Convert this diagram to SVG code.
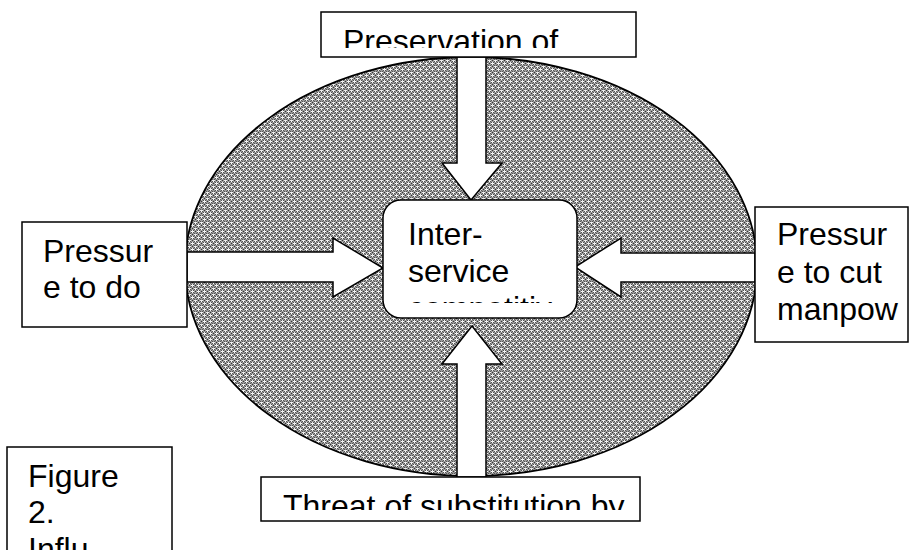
<svg xmlns="http://www.w3.org/2000/svg" width="909" height="550" viewBox="0 0 909 550">
<defs>
<style>
.box{fill:#fff;stroke:#000;stroke-width:1.5}
.t{font-family:"Liberation Sans",Arial,sans-serif;font-size:32px;fill:#000}
.arr{fill:#fff;stroke:#000;stroke-width:1.5;stroke-linejoin:miter}
</style>
<pattern id="chk" width="6" height="6" patternUnits="userSpaceOnUse">
<rect width="6" height="6" fill="#9a9a9a"/>
<rect x="0" y="0" width="1" height="1" fill="#333"/>
<rect x="3" y="3" width="1" height="1" fill="#333"/>
<rect x="2" y="1" width="1" height="1" fill="#555"/>
<rect x="4" y="1" width="1" height="1" fill="#555"/>
<rect x="1" y="2" width="1" height="1" fill="#555"/>
<rect x="5" y="2" width="1" height="1" fill="#555"/>
<rect x="1" y="4" width="1" height="1" fill="#555"/>
<rect x="5" y="4" width="1" height="1" fill="#555"/>
<rect x="2" y="5" width="1" height="1" fill="#555"/>
<rect x="4" y="5" width="1" height="1" fill="#555"/>
<rect x="3" y="0" width="1" height="2" fill="#fff"/>
<rect x="2" y="0" width="3" height="1" fill="#eee"/>
<rect x="0" y="3" width="2" height="1" fill="#fff"/>
<rect x="5" y="3" width="1" height="1" fill="#fff"/>
<rect x="0" y="2" width="1" height="3" fill="#eee"/>
</pattern>
<clipPath id="cTop"><rect x="322" y="13" width="313" height="35"/></clipPath>
<clipPath id="cBot"><rect x="262" y="478" width="377" height="32"/></clipPath>
<clipPath id="cMid"><rect x="384" y="201" width="192" height="102"/></clipPath>
</defs>

<g id="field">
<ellipse cx="471" cy="266.5" rx="286" ry="209.5" fill="url(#chk)" stroke="#000" stroke-width="1.8"/>
</g>

<g id="connectors">
<polygon class="arr" points="457,57 486,57 486,163 502,163 471,200 442,163 457,163"/>
<polygon class="arr" points="457,477 486,477 486,364 502,364 472,326 442,364 457,364"/>
<polygon class="arr" points="187,252 333,252 333,238 383,268 333,297 333,282 187,282"/>
<polygon class="arr" points="755,253 621,253 621,238 575,267 621,297 621,282 755,282"/>
</g>

<g id="node-top">
<rect class="box" x="321" y="12" width="315" height="45"/>
<text class="t" x="343" y="52" clip-path="url(#cTop)">Preservation of</text>
</g>

<g id="node-center">
<rect class="box" x="383" y="200" width="194" height="118" rx="18" ry="18" stroke-width="2"/>
<g clip-path="url(#cMid)">
<text class="t" x="408" y="245">Inter-</text>
<text class="t" x="408" y="282">service</text>
<text class="t" x="408" y="319">competitiv</text>
</g>
</g>

<g id="node-left">
<rect class="box" x="22" y="222" width="165" height="105"/>
<text class="t" x="43" y="262">Pressur</text>
<text class="t" x="43" y="298">e to do</text>
</g>

<g id="node-right">
<rect class="box" x="755" y="207" width="153" height="135"/>
<text class="t" x="777" y="245">Pressur</text>
<text class="t" x="777" y="283">e to cut</text>
<text class="t" x="777" y="320">manpow</text>
</g>

<g id="node-bottom">
<rect class="box" x="261" y="477" width="379" height="44"/>
<text class="t" x="283" y="517" clip-path="url(#cBot)">Threat of substitution by</text>
</g>

<g id="caption">
<rect class="box" x="7" y="447" width="165" height="120"/>
<text class="t" x="28" y="487">Figure</text>
<text class="t" x="28" y="523">2.</text>
<text class="t" x="28" y="560">Influ</text>
</g>
</svg>
